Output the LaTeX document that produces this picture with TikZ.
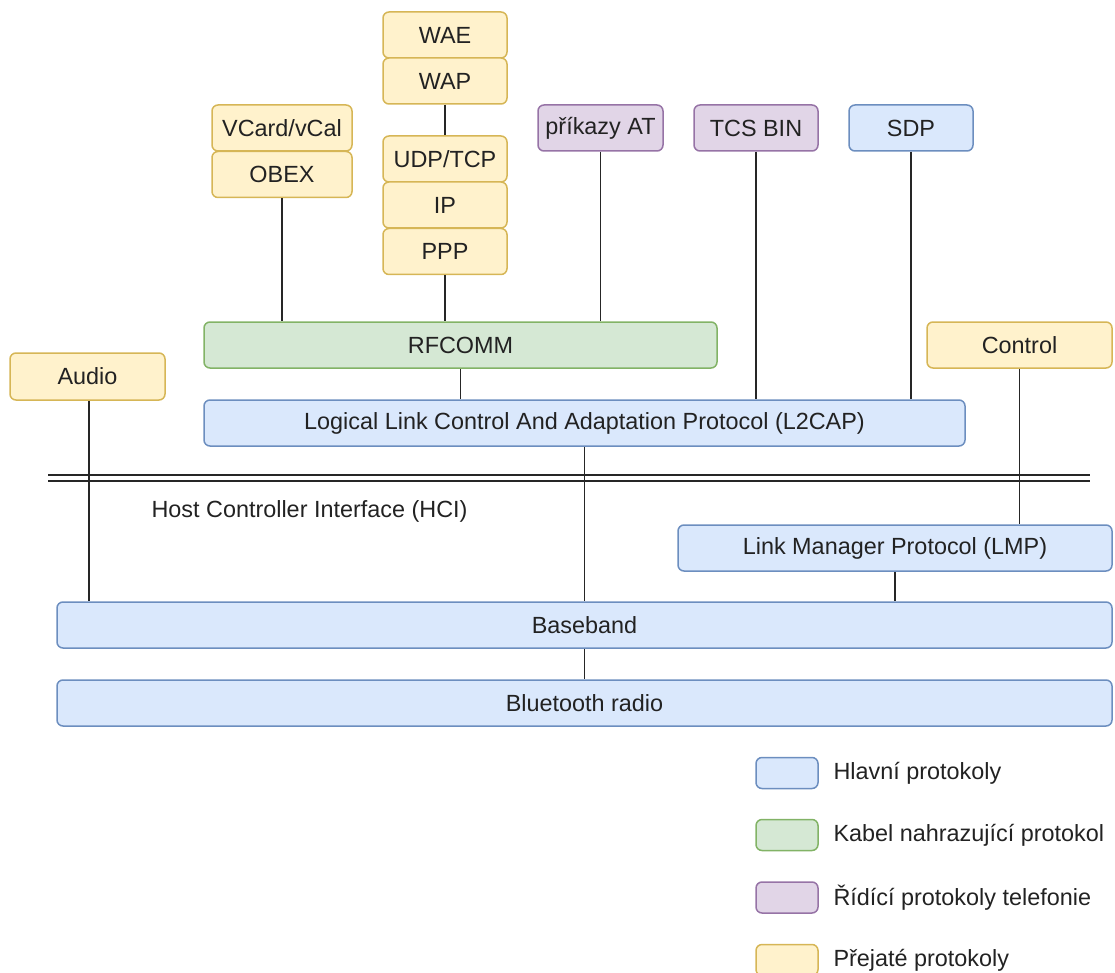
\documentclass[tikz,border=0pt]{standalone}
\usepackage{fontspec}
\setmainfont{Liberation Sans}
\usetikzlibrary{positioning}

\definecolor{bluefill}{HTML}{DAE8FC}
\definecolor{blueline}{HTML}{6C8EBF}
\definecolor{greenfill}{HTML}{D5E8D4}
\definecolor{greenline}{HTML}{82B366}
\definecolor{violetfill}{HTML}{E1D5E7}
\definecolor{violetline}{HTML}{9673A6}
\definecolor{yellowfill}{HTML}{FFF2CC}
\definecolor{yellowline}{HTML}{D6B656}
\definecolor{textcol}{HTML}{222222}

\begin{document}
\begin{tikzpicture}[x=1pt, y=-1pt,
        font=\fontsize{23.4}{28}\selectfont, text=textcol,
        layer/.style={rectangle, rounded corners=6pt, line width=1.5pt, inner sep=0pt,
            minimum height=46pt},
        mainproto/.style={layer, fill=bluefill, draw=blueline},
        cableproto/.style={layer, fill=greenfill, draw=greenline},
        phoneproto/.style={layer, fill=violetfill, draw=violetline},
        adoptproto/.style={layer, fill=yellowfill, draw=yellowline},
        link/.style={line width=1.5pt, color=black!85},
        legendbox/.style={minimum width=62pt, minimum height=31pt},
        legendtext/.style={anchor=west}]
        \useasboundingbox (0,0) rectangle (1115,973);

        % WAP stack
        \node[adoptproto, minimum width=124pt] (wae) at (445,35) {WAE};
        \node[adoptproto, minimum width=124pt] (wap) at (445,81) {WAP};
        \node[adoptproto, minimum width=124pt] (udp) at (445,159) {UDP/TCP};
        \node[adoptproto, minimum width=124pt] (ip) at (445,205) {IP};
        \node[adoptproto, minimum width=124pt] (ppp) at (445,251.5) {PPP};

        % OBEX stack
        \node[adoptproto, minimum width=140pt] (vcard) at (282,128) {VCard/vCal};
        \node[adoptproto, minimum width=140pt] (obex) at (282,174.5) {OBEX};

        % telephony and SDP
        \node[phoneproto, minimum width=125pt] (atcmd) at (600.5,128) {příkazy AT};
        \node[phoneproto, minimum width=124pt] (tcsbin) at (756,128) {TCS BIN};
        \node[mainproto, minimum width=124pt] (sdp) at (911,128) {SDP};

        % middle layers
        \node[cableproto, minimum width=513pt] (rfcomm) at (460.5,345) {RFCOMM};
        \node[adoptproto, minimum width=185pt] (control) at (1019.5,345) {Control};
        \node[adoptproto, minimum width=155pt, minimum height=47pt] (audio) at (87.5,376.5) {Audio};
        \node[mainproto, minimum width=761pt] (l2cap) at (584.5,423)
            {Logical Link Control And Adaptation Protocol (L2CAP)};

        % HCI
        \draw[line width=2pt, color=black!85] (48,475) -- (1090,475);
        \draw[line width=2pt, color=black!85] (48,481) -- (1090,481);
        \node[anchor=west] (hci) at (148,511) {Host Controller Interface (HCI)};

        % lower layers
        \node[mainproto, minimum width=434pt] (lmp) at (895,548) {Link Manager Protocol (LMP)};
        \node[mainproto, minimum width=1055pt] (baseband) at (584.5,625) {Baseband};
        \node[mainproto, minimum width=1055pt] (radio) at (584.5,703) {Bluetooth radio};

        % links
        \draw[link] (wap.south) -- (udp.north);
        \draw[link] (ppp.south) -- (ppp.south |- rfcomm.north);
        \draw[link] (obex.south) -- (obex.south |- rfcomm.north);
        \draw[link] (atcmd.south) -- (atcmd.south |- rfcomm.north);
        \draw[link] (tcsbin.south) -- (tcsbin.south |- l2cap.north);
        \draw[link] (sdp.south) -- (sdp.south |- l2cap.north);
        \draw[link] (rfcomm.south) -- (rfcomm.south |- l2cap.north);
        \draw[link] (control.south) -- (control.south |- lmp.north);
        \draw[link] ([xshift=1.5pt]audio.south) -- ([xshift=1.5pt]audio.south |- baseband.north);
        \draw[link] (l2cap.south) -- (l2cap.south |- baseband.north);
        \draw[link] (lmp.south) -- (lmp.south |- baseband.north);
        \draw[link] (baseband.south) -- (radio.north);

        % legend
        \node[mainproto, legendbox] (keymain) at (787,773) {};
        \node[cableproto, legendbox] (keycable) at (787,835) {};
        \node[phoneproto, legendbox] (keyphone) at (787,897.5) {};
        \node[adoptproto, legendbox] (keyadopt) at (787,960) {};
        \node[legendtext] (txtmain) at (830,773) {Hlavní protokoly};
        \node[legendtext] (txtcable) at (830,835) {Kabel nahrazující protokol};
        \node[legendtext] (txtphone) at (830,897.5) {Řídící protokoly telefonie};
        \node[legendtext] (txtadopt) at (830,960) {Přejaté protokoly};
    \end{tikzpicture}
\end{document}
